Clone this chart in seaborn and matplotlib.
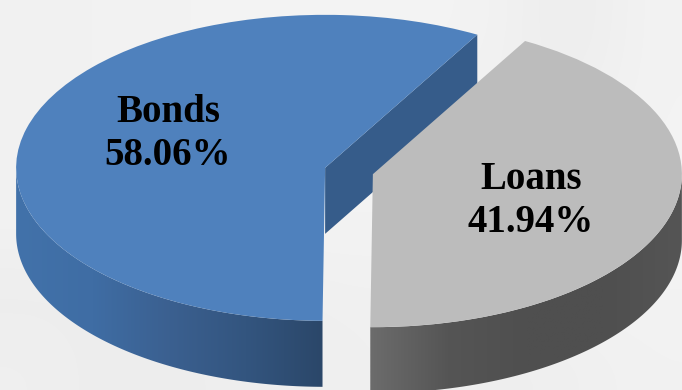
import numpy as np
import matplotlib
matplotlib.use("Agg")
import matplotlib.pyplot as plt
from matplotlib.patches import Polygon
import seaborn as sns

# Portfolio split
categories = ["Bonds", "Loans"]
shares = [58.06, 41.94]
top_colors = ["#4f81bd", "#bcbcbc"]
wall_colors = [["#4272aa", "#3f6da4", "#3b6090", "#33557f", "#2b4769"],
               ["#6c6c6c", "#555555", "#4f4f4f", "#4f4f4f", "#555555"]]
cut_color = "#365c8a"

sns.set_theme(style="white")
plt.rcParams["font.family"] = ["Liberation Serif", "DejaVu Serif"]

W, H = 682, 390
RX, RY = 309.0, 153.0      # pixel size of one pie radius on each axis
CX, CY = 349.0, 171.0      # pixel position of the undisplaced pie centre
DEPTH = 66.0 / RY          # wall height in data units

fig = plt.figure(figsize=(W / 100, H / 100), dpi=100, facecolor="#f2f2f2")
ax = fig.add_axes([0, 0, 1, 1])
limits = dict(xlim=(-CX / RX, (W - CX) / RX), ylim=((CY - H) / RY, CY / RY))

wedges, _ = ax.pie(shares, colors=top_colors, startangle=60.5, explode=[0.08, 0.08],
                   radius=1.0, wedgeprops=dict(linewidth=0, zorder=5))
ax.set_aspect("auto")
ax.set_frame_on(True)
ax.set_facecolor("#f2f2f2")
for side in ax.spines.values():
    side.set_visible(False)
ax.set(xticks=[], yticks=[], **limits)

# Faint backdrop tones
backdrop = np.array([
    [.945, .945, .95, .95, .95, .95, .95, .92, .95],
    [.945, .945, .95, .95, .95, .95, .94, .93, .95],
    [.945, .945, .95, .95, .95, .95, .95, .95, .95],
    [.945, .945, .95, .95, .95, .95, .95, .95, .95],
    [.925, .93, .93, .935, .94, .94, .94, .95, .95],
    [.935, .925, .93, .93, .935, .94, .93, .935, .945],
])
ax.imshow(backdrop, cmap="gray", vmin=0, vmax=1, aspect="auto", zorder=0,
          extent=(*limits["xlim"], *limits["ylim"]), interpolation="bicubic")


def arc(wedge, t0, t1, drop=0.0):
    t = np.radians(np.linspace(t0, t1, 200))
    cx, cy = wedge.center
    return np.column_stack([cx + np.cos(t), cy + np.sin(t) - drop])


def gradient_wall(wedge, colors):
    t0, t1 = max(wedge.theta1 % 360, 180), wedge.theta2
    if wedge.theta1 % 360 > wedge.theta2 % 360:      # wedge crosses 0 degrees
        t0, t1 = wedge.theta1 % 360, 360.0
    pts = np.vstack([arc(wedge, t0, t1), arc(wedge, t1, t0, DEPTH)])
    cmap = sns.blend_palette(colors, as_cmap=True)
    x0, x1 = pts[:, 0].min(), pts[:, 0].max()
    y0, y1 = pts[:, 1].min(), pts[:, 1].max()
    img = ax.imshow(np.linspace(0, 1, 256)[None, :], cmap=cmap, aspect="auto",
                    extent=(x0, x1, y0, y1), zorder=3)
    clip = Polygon(pts, closed=True, transform=ax.transData, facecolor="none", linewidth=0)
    ax.add_patch(clip)
    img.set_clip_path(clip)


# Walls below each slice
for wedge, colors in zip(wedges, wall_colors):
    gradient_wall(wedge, colors)

# Cut face of the bond slice, seen through the gap
bonds = wedges[0]
rim = arc(bonds, bonds.theta1, bonds.theta1)[0]
apex = np.array(bonds.center)
face = [apex, rim, rim - [0, DEPTH], apex - [0, DEPTH]]
ax.add_patch(Polygon(face, closed=True, facecolor=cut_color, linewidth=0, zorder=2))
ax.set(**limits)

# Slice captions
for name, share, (px, py) in zip(categories, shares, [(168, 134), (531, 201)]):
    ax.text((px - CX) / RX, (CY - py) / RY, f"{name}\n{share:.2f}%", ha="center", va="center",
            fontsize=28, fontweight="bold", color="black", linespacing=1.2, zorder=8)

fig.savefig("out.png", dpi=100, facecolor=fig.get_facecolor())
